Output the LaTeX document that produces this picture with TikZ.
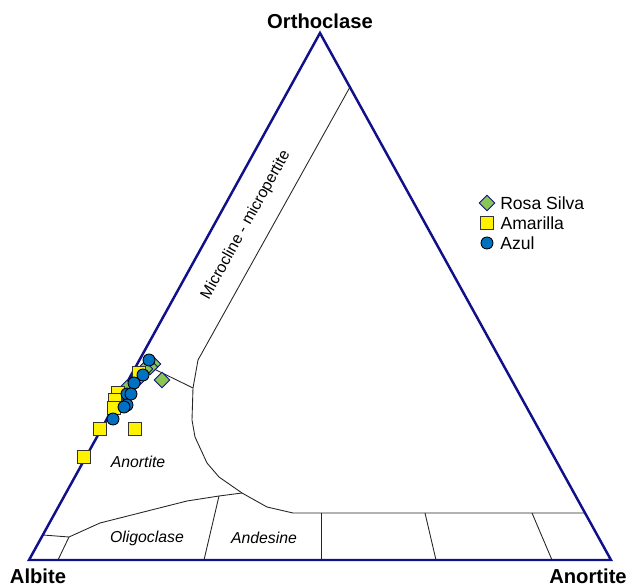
\documentclass[tikz,border=0pt]{standalone}
\usepackage{fontspec}
\setmainfont{Liberation Sans}
\usetikzlibrary{shapes.geometric,positioning}
\definecolor{edgeblue}{RGB}{16,16,138}
\definecolor{rosa}{RGB}{138,198,86}
\definecolor{azul}{RGB}{0,112,192}

\begin{document}
\begin{tikzpicture}[x=0.02cm,y=-0.02cm]
\tikzstyle{corner}=[font=\bfseries\fontsize{11.5}{13}\selectfont,inner sep=0pt]
\tikzstyle{field}=[font=\itshape\fontsize{9}{11}\selectfont,inner sep=0pt]
\tikzstyle{border}=[draw=edgeblue,line width=1.4pt,line join=miter]
\tikzstyle{limit}=[draw=black!85,line width=0.5pt]
\tikzstyle{rosapt}=[diamond,draw=edgeblue,fill=rosa,inner sep=0pt,minimum size=3.2mm,line width=0.5pt]
\tikzstyle{amapt}=[rectangle,draw=black!80,fill=yellow,inner sep=0pt,minimum size=2.5mm,line width=0.5pt]
\tikzstyle{azulpt}=[circle,draw=black,fill=azul,inner sep=0pt,minimum size=2.4mm,line width=0.5pt]
\tikzstyle{legtext}=[inner sep=0pt,font=\fontsize{10}{12}\selectfont]

\useasboundingbox (0,0) rectangle (630,588);

\coordinate (ab) at (29,560);
\coordinate (an) at (611,560);
\coordinate (or) at (320,33);

\coordinate (m1) at (350,87);
\coordinate (m2) at (198,360);
\coordinate (m3) at (193,388);
\coordinate (m4) at (192,420);
\coordinate (m5) at (195,437);
\coordinate (m6) at (207,463);
\coordinate (m7) at (219,477);
\coordinate (m8) at (242,493);
\coordinate (m9) at (267,507);
\coordinate (m10) at (293,513);
\coordinate (m11) at (585,513);
\coordinate (k1) at (150,367);

\coordinate (o1) at (43,535);
\coordinate (o2) at (69,537);
\coordinate (o3) at (100,523);
\coordinate (o4) at (187,501);
\coordinate (o5) at (219,496);
\coordinate (b1) at (58,560);
\coordinate (b2) at (204,560);

\coordinate (t1) at (321,513);
\coordinate (t2) at (425,513);
\coordinate (t3) at (532,513);
\coordinate (b3) at (321,560);
\coordinate (b4) at (436,560);
\coordinate (b5) at (552,560);

\draw[limit] (m1) -- (m2) -- (m3) -- (m4) -- (m5) -- (m6) -- (m7) -- (m8) -- (m9) -- (m10) -- (m11);
\draw[limit] (k1) -- (m3);
\draw[limit] (o1) -- (o2) -- (o3) -- (o4) -- (o5) -- (m8);
\draw[limit] (o2) -- (b1);
\draw[limit] (o5) -- (b2);
\draw[limit] (t1) -- (b3);
\draw[limit] (t2) -- (b4);
\draw[limit] (t3) -- (b5);

\draw[border] (ab) -- (an) -- (or) -- cycle;

\node[corner] (orlab) at (320,21) {Orthoclase};
\node[corner] (ablab) at (38,576) {Albite};
\node[corner] (anlab) at (588,576) {Anortite};

\node[field,font=\fontsize{9}{11}\selectfont,rotate=61] (mclab) at (246,225) {Microcline - micropertite};
\node[field] (anfield) at (138,462) {Anortite};
\node[field] (olfield) at (147,538) {Oligoclase};
\node[field] (adfield) at (264,538) {Andesine};

\node[rosapt] (r1) at (153,364) {};
\node[rosapt] (r2) at (150,367) {};
\node[rosapt] (r3) at (145,369) {};
\node[rosapt] (r4) at (162,380) {};
\node[rosapt] (r5) at (139,378) {};
\node[rosapt] (r6) at (133,383) {};
\node[rosapt] (r7) at (127,388) {};

\node[amapt] (a1) at (139,373) {};
\node[amapt] (a2) at (118,393) {};
\node[amapt] (a3) at (115,400) {};
\node[amapt] (a4) at (114,408) {};
\node[amapt] (a5) at (100,429) {};
\node[amapt] (a6) at (135,429) {};
\node[amapt] (a7) at (84,457) {};

\node[azulpt] (z1) at (149,360) {};
\node[azulpt] (z2) at (143,375) {};
\node[azulpt] (z3) at (134,383) {};
\node[azulpt] (z4) at (127,394) {};
\node[azulpt] (z5) at (131,394) {};
\node[azulpt] (z6) at (127,405) {};
\node[azulpt] (z7) at (124,407) {};
\node[azulpt] (z8) at (113,419) {};

\node[rosapt] (lr) at (487,203) {};
\node[amapt] (la) at (487,223) {};
\node[azulpt] (lz) at (487,243) {};
\node[legtext,anchor=west,right=0.9mm of lr] (lrt) {Rosa Silva};
\node[legtext,anchor=west,right=1.3mm of la] (lat) {Amarilla};
\node[legtext,anchor=west,right=1.3mm of lz] (lzt) {Azul};

\end{tikzpicture}
\end{document}
